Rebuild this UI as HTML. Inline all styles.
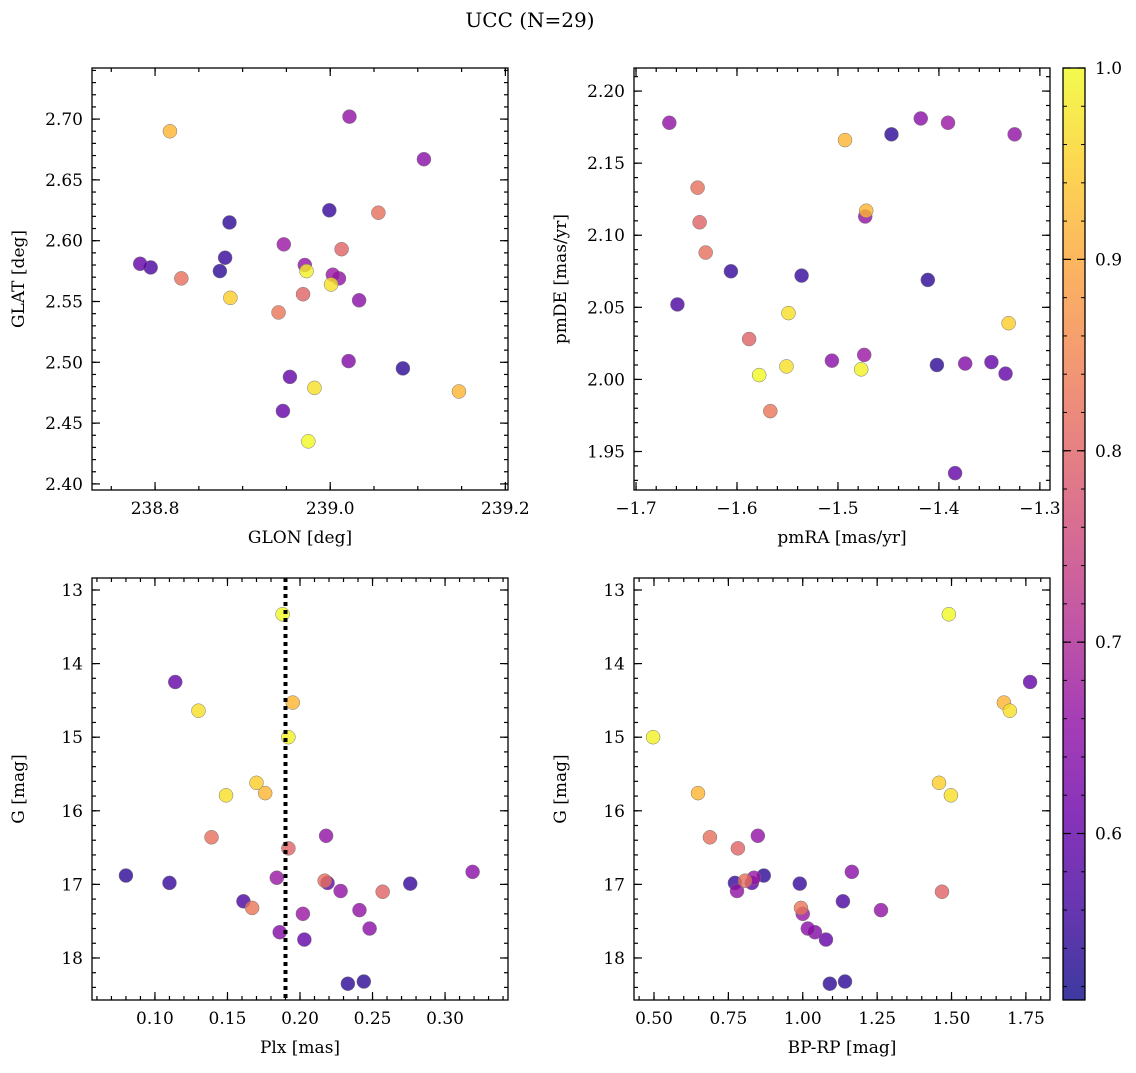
<!DOCTYPE html>
<html><head><meta charset="utf-8"><style>
html,body{margin:0;padding:0;background:#fff;}
svg text{font-family:"DejaVu Serif","Liberation Serif",serif;fill:#000;}
</style></head><body>
<svg id="fig" width="1136" height="1068" xmlns="http://www.w3.org/2000/svg">
<text x="530" y="27" font-size="20" text-anchor="middle">UCC (N=29)</text>
</svg>
<script>
// star order: Y1..Y7, S1..S5, P1,P2,P3,B1,P4,B2,B3,P5,P6,B4,P7,P8,P9,P10,P11,B5,B6
const prob = [1.0,0.97,0.92,0.99,0.95,0.97,0.92, 0.82,0.80,0.82,0.80,0.83, 0.60,0.66,0.65,0.54,0.67,0.55,0.55,0.60,0.66,0.57,0.66,0.67,0.65,0.64,0.60,0.54,0.54];
const gmag = [13.33,14.64,14.53,15.0,15.62,15.79,15.76, 16.36,16.51,16.95,17.1,17.32, 14.25,16.34,16.83,16.88,16.91,16.98,16.99,16.98,17.09,17.23,17.35,17.4,17.6,17.65,17.75,18.32,18.35];
const plx = [0.188,0.130,0.195,0.192,0.170,0.149,0.176, 0.139,0.192,0.217,0.257,0.167, 0.114,0.218,0.319,0.080,0.184,0.110,0.276,0.219,0.228,0.161,0.241,0.202,0.248,0.186,0.203,0.244,0.233];
const bprp = [1.491,1.696,1.676,0.497,1.458,1.498,0.648, 0.688,0.782,0.806,1.468,0.994, 1.764,0.849,1.165,0.869,0.836,0.772,0.99,0.829,0.779,1.135,1.263,1.0,1.017,1.041,1.078,1.142,1.091];
const glon = [238.975,238.982,238.817,238.973,238.886,239.001,239.147, 239.055,239.013,238.830,238.969,238.941, 238.946,239.022,239.107,238.885,238.947,238.999,238.880,238.783,238.971,238.795,239.010,239.003,239.033,239.021,238.954,238.874,239.083];
const glat = [2.435,2.479,2.690,2.575,2.553,2.564,2.476, 2.623,2.593,2.569,2.556,2.541, 2.460,2.702,2.667,2.615,2.597,2.625,2.586,2.581,2.580,2.578,2.569,2.572,2.551,2.501,2.488,2.575,2.495];
const pmra = [-1.578,-1.551,-1.493,-1.477,-1.331,-1.549,-1.472, -1.639,-1.637,-1.631,-1.588,-1.567, -1.348,-1.667,-1.418,-1.447,-1.391,-1.606,-1.536,-1.334,-1.325,-1.659,-1.473,-1.474,-1.506,-1.374,-1.384,-1.411,-1.402];
const pmde = [2.003,2.009,2.166,2.007,2.039,2.046,2.117, 2.133,2.109,2.088,2.028,1.978, 2.012,2.178,2.181,2.170,2.178,2.075,2.072,2.004,2.170,2.052,2.113,2.017,2.013,2.011,1.935,2.069,2.010];
const plxLine = 0.19;
const cbTicks = [0.6,0.7,0.8,0.9,1.0];

const NS="http://www.w3.org/2000/svg";
const svg=document.getElementById('fig');
function el(tag,attrs,parent){const e=document.createElementNS(NS,tag);for(const k in attrs)e.setAttribute(k,attrs[k]);(parent||svg).appendChild(e);return e;}
const stops=['#0d0887','#41049d','#6a00a8','#8f0da4','#b12a90','#cc4778','#e16462','#f2844b','#fca636','#fcce25','#f0f921'];
function hex(h){return [1,3,5].map(i=>parseInt(h.substr(i,2),16));}
function plasma(t){t=Math.max(0,Math.min(1,t));const f=t*10,i=Math.min(9,Math.floor(f)),r=f-i;const a=hex(stops[i]),b=hex(stops[i+1]);return 'rgb('+a.map((v,k)=>Math.round(v+(b[k]-v)*r)).join(',')+')';}
const vmin=0.513,vmax=1.0;
function fmt(v,d){let s=v.toFixed(d);if(s.startsWith('-'))s='\u2212'+s.slice(1);return s;}
const FS=17;

function panel(name,box,xr,yr,xMaj,xMin,yMaj,yMin,xd,yd,xs,ys,xlabel,ylabel,invertY){
  const [L,T,R,B]=box;
  const g=el('g',{});
  
  
  const X=v=>L+(v-xr[0])/(xr[1]-xr[0])*(R-L);
  const Y=invertY? v=>T+(v-yr[0])/(yr[1]-yr[0])*(B-T) : v=>B-(v-yr[0])/(yr[1]-yr[0])*(B-T);
  const lo=Math.min(...xr),hi=Math.max(...xr),ylo=Math.min(...yr),yhi=Math.max(...yr);
  function ticks(step,a,b){const out=[];for(let v=Math.ceil(a/step-1e-6)*step;v<=b+1e-9;v+=step)out.push(+v.toFixed(6));return out;}
  ticks(xMin,lo,hi).forEach(v=>{const x=X(v);el('line',{x1:x,x2:x,y1:B,y2:B-4,stroke:'#000','stroke-width':1.2},g);el('line',{x1:x,x2:x,y1:T,y2:T+4,stroke:'#000','stroke-width':1.2},g);});
  ticks(yMin,ylo,yhi).forEach(v=>{const y=Y(v);el('line',{x1:L,x2:L+4,y1:y,y2:y,stroke:'#000','stroke-width':1.2},g);el('line',{x1:R,x2:R-4,y1:y,y2:y,stroke:'#000','stroke-width':1.2},g);});
  ticks(xMaj,lo,hi).forEach(v=>{const x=X(v);el('line',{x1:x,x2:x,y1:B,y2:B-8,stroke:'#000','stroke-width':1.2},g);el('line',{x1:x,x2:x,y1:T,y2:T+8,stroke:'#000','stroke-width':1.2},g);
    const t=el('text',{x:x,y:B+24,'font-size':FS,'text-anchor':'middle'},g);t.textContent=fmt(v,xd);});
  ticks(yMaj,ylo,yhi).forEach(v=>{const y=Y(v);el('line',{x1:L,x2:L+8,y1:y,y2:y,stroke:'#000','stroke-width':1.2},g);el('line',{x1:R,x2:R-8,y1:y,y2:y,stroke:'#000','stroke-width':1.2},g);
    const t=el('text',{x:L-9,y:y+6,'font-size':FS,'text-anchor':'end'},g);t.textContent=fmt(v,yd);});
  const xl=el('text',{x:(L+R)/2,y:B+53,'font-size':FS,'text-anchor':'middle'},g);xl.textContent=xlabel;
  
  
  const yx=L-68;
  const yl=el('text',{x:yx,y:(T+B)/2,'font-size':FS,'text-anchor':'middle',transform:'rotate(-90 '+yx+' '+(T+B)/2+')'},g);yl.textContent=ylabel;
  
  
  const idx=xs.map((_,i)=>i).sort((a,b)=>prob[a]-prob[b]);
  idx.forEach(i=>{const c=el('circle',{cx:X(xs[i]),cy:Y(ys[i]),r:7,fill:plasma((prob[i]-vmin)/(vmax-vmin)),'fill-opacity':0.8,stroke:'#777','stroke-width':0.5},g);
    
    });
  el('rect',{x:L,y:T,width:R-L,height:B-T,fill:'none',stroke:'#000','stroke-width':1.3},g);
  return {g,X,Y};
}
panel('glon-glat-panel',[92,68,508,490],[238.728,239.203],[2.395,2.742],0.2,0.05,0.05,0.01,1,2,glon,glat,'GLON [deg]','GLAT [deg]',false);
panel('pm-panel',[634,68,1050,490],[-1.702,-1.290],[1.9233,2.216],0.1,0.02,0.05,0.01,1,2,pmra,pmde,'pmRA [mas/yr]','pmDE [mas/yr]',false);
const p3=panel('plx-g-panel',[92,578,508,1000],[0.0566,0.3434],[12.837,18.571],0.05,0.01,1,0.2,2,0,plx,gmag,'Plx [mas]','G [mag]',true);
const ln=el('line',{x1:p3.X(plxLine),x2:p3.X(plxLine),y1:578,y2:1000,stroke:'#000','stroke-width':4,'stroke-dasharray':'4,4'},p3.g);


panel('cmd-panel',[634,578,1050,1000],[0.4328,1.831],[12.837,18.571],0.25,0.05,1,0.2,2,0,bprp,gmag,'BP-RP [mag]','G [mag]',true);

const cb=el('g',{});


const defs=el('defs',{},cb);
const lg=el('linearGradient',{id:'cbg',x1:0,y1:1,x2:0,y2:0},defs);
for(let k=0;k<=20;k++){el('stop',{offset:k/20,'stop-color':plasma(k/20),'stop-opacity':0.8},lg);}
const CT=68,CB=1000,CL=1063,CR=1085;
el('rect',{x:CL,y:CT,width:CR-CL,height:CB-CT,fill:'url(#cbg)'},cb);
const CY=v=>CB-(v-vmin)/(vmax-vmin)*(CB-CT);
for(let v=0.52;v<=1.0001;v+=0.02){const y=CY(v);el('line',{x1:CR,x2:CR-4,y1:y,y2:y,stroke:'#000','stroke-width':1},cb);el('line',{x1:CL,x2:CL+4,y1:y,y2:y,stroke:'#000','stroke-width':1},cb);}
cbTicks.forEach(v=>{const y=CY(v);el('line',{x1:CR,x2:CR-8,y1:y,y2:y,stroke:'#000','stroke-width':1.2},cb);el('line',{x1:CL,x2:CL+8,y1:y,y2:y,stroke:'#000','stroke-width':1.2},cb);
  const t=el('text',{x:CR+10,y:y+6,'font-size':FS},cb);t.textContent=v.toFixed(1);
  
  });
el('rect',{x:CL,y:CT,width:CR-CL,height:CB-CT,fill:'none',stroke:'#000','stroke-width':1.3},cb);
</script>
</body></html>
